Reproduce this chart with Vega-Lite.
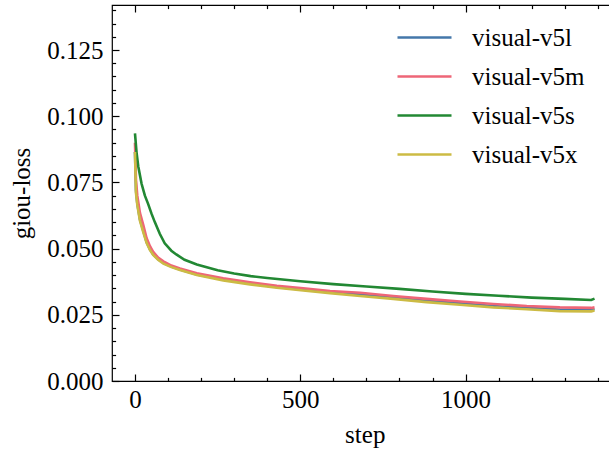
{
  "$schema": "https://vega.github.io/schema/vega-lite/v6.json",
  "width": 505.5,
  "height": 376,
  "autosize": {"type": "none"},
  "padding": {"left": 112, "top": 5, "right": 0, "bottom": 71},
  "background": "white",
  "config": {
    "view": {"stroke": "black", "strokeWidth": 1.2},
    "font": "Liberation Serif",
    "axis": {
      "grid": false,
      "domain": false,
      "tickColor": "black",
      "tickWidth": 1.2,
      "labelFont": "Liberation Serif",
      "labelFontSize": 25,
      "labelColor": "black",
      "titleFont": "Liberation Serif",
      "titleFontSize": 25,
      "titleFontWeight": "normal",
      "titleColor": "black"
    },
    "legend": {
      "labelFont": "Liberation Serif",
      "labelFontSize": 25,
      "labelColor": "black"
    }
  },
  "data": {
    "values": [
      {"step": 0, "model": "visual-v5l", "loss": 0.0865},
      {"step": 3, "model": "visual-v5l", "loss": 0.072},
      {"step": 7, "model": "visual-v5l", "loss": 0.067},
      {"step": 15, "model": "visual-v5l", "loss": 0.061},
      {"step": 25, "model": "visual-v5l", "loss": 0.0568},
      {"step": 35, "model": "visual-v5l", "loss": 0.0525},
      {"step": 45, "model": "visual-v5l", "loss": 0.0498},
      {"step": 55, "model": "visual-v5l", "loss": 0.0478},
      {"step": 70, "model": "visual-v5l", "loss": 0.046},
      {"step": 86, "model": "visual-v5l", "loss": 0.0446},
      {"step": 110, "model": "visual-v5l", "loss": 0.0432},
      {"step": 136, "model": "visual-v5l", "loss": 0.0421},
      {"step": 187, "model": "visual-v5l", "loss": 0.0402},
      {"step": 267, "model": "visual-v5l", "loss": 0.0383},
      {"step": 348, "model": "visual-v5l", "loss": 0.0368},
      {"step": 429, "model": "visual-v5l", "loss": 0.0355},
      {"step": 509, "model": "visual-v5l", "loss": 0.0345},
      {"step": 590, "model": "visual-v5l", "loss": 0.0335},
      {"step": 681, "model": "visual-v5l", "loss": 0.0327},
      {"step": 781, "model": "visual-v5l", "loss": 0.0315},
      {"step": 882, "model": "visual-v5l", "loss": 0.0303},
      {"step": 983, "model": "visual-v5l", "loss": 0.0293},
      {"step": 1084, "model": "visual-v5l", "loss": 0.0283},
      {"step": 1185, "model": "visual-v5l", "loss": 0.0276},
      {"step": 1285, "model": "visual-v5l", "loss": 0.027},
      {"step": 1380, "model": "visual-v5l", "loss": 0.0268},
      {"step": 1390, "model": "visual-v5l", "loss": 0.0272},

      {"step": 0, "model": "visual-v5m", "loss": 0.09},
      {"step": 3, "model": "visual-v5m", "loss": 0.076},
      {"step": 7, "model": "visual-v5m", "loss": 0.07},
      {"step": 15, "model": "visual-v5m", "loss": 0.0635},
      {"step": 25, "model": "visual-v5m", "loss": 0.059},
      {"step": 35, "model": "visual-v5m", "loss": 0.054},
      {"step": 45, "model": "visual-v5m", "loss": 0.051},
      {"step": 55, "model": "visual-v5m", "loss": 0.0488},
      {"step": 70, "model": "visual-v5m", "loss": 0.0466},
      {"step": 86, "model": "visual-v5m", "loss": 0.0452},
      {"step": 110, "model": "visual-v5m", "loss": 0.0436},
      {"step": 136, "model": "visual-v5m", "loss": 0.0425},
      {"step": 187, "model": "visual-v5m", "loss": 0.0407},
      {"step": 267, "model": "visual-v5m", "loss": 0.0388},
      {"step": 348, "model": "visual-v5m", "loss": 0.0373},
      {"step": 429, "model": "visual-v5m", "loss": 0.036},
      {"step": 509, "model": "visual-v5m", "loss": 0.035},
      {"step": 590, "model": "visual-v5m", "loss": 0.034},
      {"step": 681, "model": "visual-v5m", "loss": 0.0333},
      {"step": 781, "model": "visual-v5m", "loss": 0.0321},
      {"step": 882, "model": "visual-v5m", "loss": 0.031},
      {"step": 983, "model": "visual-v5m", "loss": 0.03},
      {"step": 1084, "model": "visual-v5m", "loss": 0.0291},
      {"step": 1185, "model": "visual-v5m", "loss": 0.0283},
      {"step": 1285, "model": "visual-v5m", "loss": 0.0278},
      {"step": 1380, "model": "visual-v5m", "loss": 0.0276},
      {"step": 1390, "model": "visual-v5m", "loss": 0.0278},

      {"step": 0, "model": "visual-v5s", "loss": 0.0935},
      {"step": 5, "model": "visual-v5s", "loss": 0.086},
      {"step": 10, "model": "visual-v5s", "loss": 0.081},
      {"step": 20, "model": "visual-v5s", "loss": 0.0745},
      {"step": 30, "model": "visual-v5s", "loss": 0.07},
      {"step": 40, "model": "visual-v5s", "loss": 0.0668},
      {"step": 50, "model": "visual-v5s", "loss": 0.0632},
      {"step": 60, "model": "visual-v5s", "loss": 0.06},
      {"step": 75, "model": "visual-v5s", "loss": 0.0556},
      {"step": 90, "model": "visual-v5s", "loss": 0.052},
      {"step": 110, "model": "visual-v5s", "loss": 0.0492},
      {"step": 125, "model": "visual-v5s", "loss": 0.0478},
      {"step": 150, "model": "visual-v5s", "loss": 0.0458},
      {"step": 187, "model": "visual-v5s", "loss": 0.044},
      {"step": 250, "model": "visual-v5s", "loss": 0.0418},
      {"step": 300, "model": "visual-v5s", "loss": 0.0406},
      {"step": 350, "model": "visual-v5s", "loss": 0.0396},
      {"step": 400, "model": "visual-v5s", "loss": 0.0389},
      {"step": 500, "model": "visual-v5s", "loss": 0.0377},
      {"step": 600, "model": "visual-v5s", "loss": 0.0366},
      {"step": 700, "model": "visual-v5s", "loss": 0.0357},
      {"step": 800, "model": "visual-v5s", "loss": 0.0348},
      {"step": 900, "model": "visual-v5s", "loss": 0.0338},
      {"step": 1000, "model": "visual-v5s", "loss": 0.0329},
      {"step": 1100, "model": "visual-v5s", "loss": 0.0322},
      {"step": 1200, "model": "visual-v5s", "loss": 0.0315},
      {"step": 1300, "model": "visual-v5s", "loss": 0.031},
      {"step": 1380, "model": "visual-v5s", "loss": 0.0306},
      {"step": 1390, "model": "visual-v5s", "loss": 0.0311},

      {"step": 0, "model": "visual-v5x", "loss": 0.0865},
      {"step": 3, "model": "visual-v5x", "loss": 0.071},
      {"step": 7, "model": "visual-v5x", "loss": 0.0665},
      {"step": 15, "model": "visual-v5x", "loss": 0.0605},
      {"step": 25, "model": "visual-v5x", "loss": 0.0562},
      {"step": 35, "model": "visual-v5x", "loss": 0.0522},
      {"step": 45, "model": "visual-v5x", "loss": 0.0495},
      {"step": 55, "model": "visual-v5x", "loss": 0.0476},
      {"step": 70, "model": "visual-v5x", "loss": 0.0458},
      {"step": 86, "model": "visual-v5x", "loss": 0.0443},
      {"step": 110, "model": "visual-v5x", "loss": 0.043},
      {"step": 136, "model": "visual-v5x", "loss": 0.0419},
      {"step": 187, "model": "visual-v5x", "loss": 0.04},
      {"step": 267, "model": "visual-v5x", "loss": 0.038},
      {"step": 348, "model": "visual-v5x", "loss": 0.0365},
      {"step": 429, "model": "visual-v5x", "loss": 0.0352},
      {"step": 509, "model": "visual-v5x", "loss": 0.0342},
      {"step": 590, "model": "visual-v5x", "loss": 0.0332},
      {"step": 681, "model": "visual-v5x", "loss": 0.0321},
      {"step": 781, "model": "visual-v5x", "loss": 0.031},
      {"step": 882, "model": "visual-v5x", "loss": 0.0298},
      {"step": 983, "model": "visual-v5x", "loss": 0.0288},
      {"step": 1084, "model": "visual-v5x", "loss": 0.0278},
      {"step": 1185, "model": "visual-v5x", "loss": 0.0271},
      {"step": 1285, "model": "visual-v5x", "loss": 0.0264},
      {"step": 1380, "model": "visual-v5x", "loss": 0.0263},
      {"step": 1390, "model": "visual-v5x", "loss": 0.0266}
    ]
  },
  "resolve": {"axis": {"x": "independent", "y": "independent"}},
  "layer": [
    {
      "mark": {"type": "line", "strokeWidth": 2.6},
      "encoding": {
        "x": {
          "field": "step",
          "type": "quantitative",
          "scale": {"domain": [-69.5, 1459.5], "nice": false, "zero": false},
          "axis": {
            "orient": "bottom",
            "title": "step",
            "values": [0, 500, 1000],
            "format": "d",
            "tickSize": -7,
            "labelPadding": 13,
            "titlePadding": 10
          }
        },
        "y": {
          "field": "loss",
          "type": "quantitative",
          "scale": {"domain": [0, 0.142], "nice": false, "zero": false},
          "axis": {
            "orient": "left",
            "title": "giou-loss",
            "values": [0, 0.025, 0.05, 0.075, 0.1, 0.125],
            "format": ".3f",
            "tickSize": -7,
            "labelPadding": 16,
            "titlePadding": 12
          }
        },
        "color": {
          "field": "model",
          "type": "nominal",
          "scale": {
            "domain": ["visual-v5l", "visual-v5m", "visual-v5s", "visual-v5x"],
            "range": ["#4477AA", "#EE6677", "#228833", "#CCBB44"]
          },
          "legend": {
            "title": null,
            "orient": "none",
            "legendX": 300,
            "legendY": 20,
            "padding": 0,
            "symbolType": "M-2.7,0H2.7",
            "symbolSize": 400,
            "symbolStrokeWidth": 2.6,
            "labelOffset": 35,
            "rowPadding": 13
          }
        }
      }
    },
    {
      "mark": {"type": "line", "opacity": 0},
      "encoding": {
        "x": {
          "field": "step",
          "type": "quantitative",
          "axis": {
            "orient": "bottom",
            "title": null,
            "labels": false,
            "values": [100, 200, 300, 400, 600, 700, 800, 900, 1100, 1200, 1300, 1400],
            "tickSize": -3.6
          }
        },
        "y": {
          "field": "loss",
          "type": "quantitative",
          "axis": {
            "orient": "left",
            "title": null,
            "labels": false,
            "values": [0.005, 0.01, 0.015, 0.02, 0.03, 0.035, 0.04, 0.045, 0.055, 0.06, 0.065, 0.07, 0.08, 0.085, 0.09, 0.095, 0.105, 0.11, 0.115, 0.12, 0.13, 0.135, 0.14],
            "tickSize": -3.6
          }
        }
      }
    },
    {
      "mark": {"type": "line", "opacity": 0},
      "encoding": {
        "x": {
          "field": "step",
          "type": "quantitative",
          "axis": {
            "orient": "top",
            "title": null,
            "labels": false,
            "values": [0, 500, 1000],
            "tickSize": -7
          }
        },
        "y": {"field": "loss", "type": "quantitative", "axis": null}
      }
    },
    {
      "mark": {"type": "line", "opacity": 0},
      "encoding": {
        "x": {
          "field": "step",
          "type": "quantitative",
          "axis": {
            "orient": "top",
            "title": null,
            "labels": false,
            "values": [100, 200, 300, 400, 600, 700, 800, 900, 1100, 1200, 1300, 1400],
            "tickSize": -3.6
          }
        },
        "y": {"field": "loss", "type": "quantitative", "axis": null}
      }
    }
  ]
}
